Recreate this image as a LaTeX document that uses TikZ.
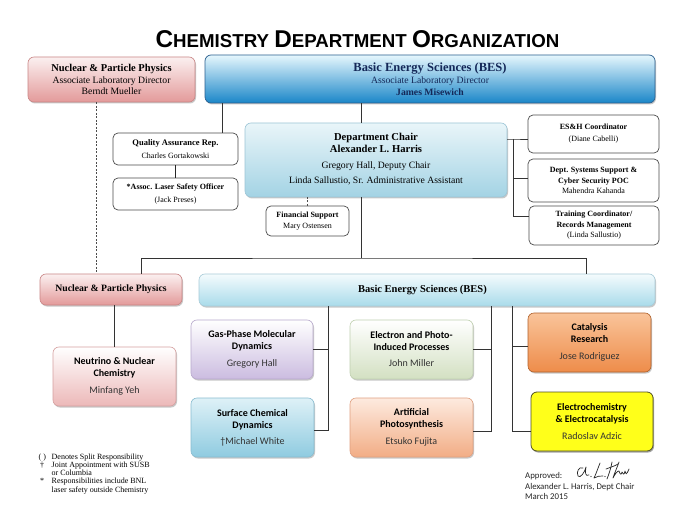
\documentclass[tikz,border=0pt]{standalone}
\usepackage{fontspec}
\setmainfont{Liberation Serif}
\newfontfamily\calfont{Carlito}
\newfontfamily\arialfont{Liberation Sans}
\usetikzlibrary{shadows}
\definecolor{nppT}{HTML}{FBF0F0}\definecolor{nppB}{HTML}{E39A9A}\definecolor{nppD}{HTML}{C98585}
\definecolor{besT}{HTML}{E6F7FD}\definecolor{besM}{HTML}{7CCAF0}\definecolor{besB}{HTML}{1A86C8}\definecolor{besD}{HTML}{2A5F8F}
\definecolor{besTxt}{HTML}{142858}
\definecolor{chairT}{HTML}{E9F5F9}\definecolor{chairB}{HTML}{A3D3E4}\definecolor{chairD}{HTML}{9CC5D6}
\definecolor{barT}{HTML}{F4FBFD}\definecolor{barB}{HTML}{A9DBEA}\definecolor{barD}{HTML}{A8CBD8}
\definecolor{neuB}{HTML}{ECB8B8}\definecolor{neuD}{HTML}{D5A0A0}
\definecolor{gasB}{HTML}{CBBCE0}\definecolor{gasD}{HTML}{B8A9CC}
\definecolor{surfT}{HTML}{DEF1F7}\definecolor{surfB}{HTML}{8FCBE0}\definecolor{surfD}{HTML}{88BCD0}
\definecolor{eleB}{HTML}{D3E0C2}\definecolor{eleD}{HTML}{C0D0B0}
\definecolor{artT}{HTML}{FDEADF}\definecolor{artB}{HTML}{F2AD85}\definecolor{artD}{HTML}{E0A080}
\definecolor{catT}{HTML}{F9C49A}\definecolor{catB}{HTML}{EE8C4A}\definecolor{catD}{HTML}{B0602A}
\definecolor{ecF}{HTML}{FFFF1A}\definecolor{ecD}{HTML}{505020}
\definecolor{nameC}{HTML}{333333}
\begin{document}
\begin{tikzpicture}[x=1pt,y=-1pt,
  conn/.style={draw=black!80, line width=0.9pt},
  thickconn/.style={draw=black!85, line width=1.8pt},
  dashline/.style={draw=black!70, line width=0.7pt, dash pattern=on 2pt off 1.5pt},
  wbox/.style={draw=black!70, line width=0.7pt, rounded corners=5pt, fill=white, align=center, inner sep=0pt,
    font=\fontsize{8}{10}\selectfont},
  gbox/.style n args={3}{rounded corners=6pt, top color=#1, bottom color=#2, draw=#3, line width=0.6pt,
    align=center, inner sep=0pt,
    drop shadow={shadow xshift=1pt, shadow yshift=-1.5pt, opacity=0.3, fill=black!70}},
  sansbox/.style={font=\calfont\fontsize{10}{12}\selectfont, minimum width=123pt, minimum height=59pt},
  sig/.style={draw=black!85, line width=0.7pt, line cap=round, line join=round},
]
\useasboundingbox (0,0) rectangle (700,526);
\fill[white] (0,0) rectangle (700,526);

% title
\node[font=\arialfont\bfseries] (title) at (357.5,39.5)
  {{\fontsize{24.3}{24}\selectfont C}{\fontsize{18.7}{24}\selectfont HEMISTRY }{\fontsize{24.3}{24}\selectfont D}{\fontsize{18.7}{24}\selectfont EPARTMENT }{\fontsize{24.3}{24}\selectfont O}{\fontsize{18.7}{24}\selectfont RGANIZATION}};

% top row
\node[gbox={nppT}{nppB}{nppD}, minimum width=167pt, minimum height=45pt,
  font=\fontsize{9.7}{11.5}\selectfont] (npptop) at (111.5,79.5)
  {{\bfseries\fontsize{10.5}{11.5}\selectfont Nuclear \& Particle Physics}\\ Associate Laboratory Director\\ Berndt Mueller};
\node[rounded corners=6pt, top color=besT, middle color=besM, bottom color=besB, draw=besD, line width=0.7pt,
  align=center, inner sep=0pt, minimum width=450pt, minimum height=48pt, text=besTxt,
  drop shadow={shadow xshift=1pt, shadow yshift=-1.5pt, opacity=0.3, fill=black!70},
  font=\fontsize{9.7}{11.5}\selectfont] (bestop) at (430,79)
  {{\bfseries\fontsize{12.5}{13}\selectfont Basic Energy Sciences (BES)}\\[1pt] Associate Laboratory Director\\ {\bfseries James Misewich}};

% staff boxes left
\node[wbox, minimum width=125pt, minimum height=32pt] (qa) at (175.5,149)
  {{\bfseries\fontsize{8.5}{10}\selectfont Quality Assurance Rep.}\\[2.5pt] Charles Gortakowski};
\node[wbox, minimum width=125pt, minimum height=32pt] (laser) at (175.5,194)
  {{\bfseries *Assoc. Laser Safety Officer}\\[2.5pt] (Jack Preses)};

% department chair
\node[gbox={chairT}{chairB}{chairD}, minimum width=262pt, minimum height=74pt,
  font=\fontsize{9.7}{12}\selectfont] (chair) at (376,160)
  {{\bfseries\fontsize{10.6}{12}\selectfont Department Chair}\\ {\bfseries\fontsize{10.6}{12}\selectfont Alexander L. Harris}\\[4pt] Gregory Hall, Deputy Chair\\[3pt] Linda Sallustio, Sr. Administrative Assistant\\[-9pt]\mbox{}};

\node[wbox, minimum width=83pt, minimum height=30pt, font=\fontsize{8}{11}\selectfont] (fin) at (307.5,221)
  {{\bfseries Financial Support}\\ Mary Ostensen};

% staff boxes right
\node[wbox, minimum width=131pt, minimum height=38pt, font=\fontsize{8}{12}\selectfont] (esh) at (593.5,134)
  {{\bfseries ES\&H Coordinator}\\ (Diane Cabelli)};
\node[wbox, minimum width=131pt, minimum height=43pt, font=\fontsize{8}{10.5}\selectfont] (dss) at (593.5,180.5)
  {{\bfseries Dept. Systems Support \&}\\ {\bfseries Cyber Security POC}\\ Mahendra Kahanda};
\node[wbox, minimum width=130pt, minimum height=39pt, font=\fontsize{8}{10.5}\selectfont] (trn) at (594,225.5)
  {{\bfseries Training Coordinator/}\\ {\bfseries Records Management}\\ (Linda Sallustio)};

% second level
\node[gbox={nppT}{nppB}{nppD}, minimum width=142pt, minimum height=31pt,
  font=\bfseries\fontsize{9.7}{11}\selectfont] (nppmid) at (111,289.5) {Nuclear \& Particle Physics};
\node[gbox={barT}{barB}{barD}, minimum width=456pt, minimum height=32pt,
  font=\bfseries\fontsize{10.5}{12}\selectfont] (besbar) at (427,290) {Basic Energy Sciences (BES)\hspace*{9pt}};

% groups
\node[gbox={white}{neuB}{neuD}, sansbox] (neu) at (114.5,376.5)
  {{\bfseries Neutrino \& Nuclear}\\ {\bfseries Chemistry}\\[5pt] {\color{nameC}Minfang Yeh}};
\node[gbox={white}{gasB}{gasD}, sansbox, minimum width=122pt] (gas) at (252,349.5)
  {{\bfseries Gas-Phase Molecular}\\ {\bfseries Dynamics}\\[5pt] {\color{nameC}Gregory Hall}};
\node[gbox={surfT}{surfB}{surfD}, sansbox] (surf) at (252.5,427.5)
  {{\bfseries Surface Chemical}\\ {\bfseries Dynamics}\\[4pt] {\color{nameC}†Michael White}};
\node[gbox={white}{eleB}{eleD}, sansbox] (ele) at (411.5,349.5)
  {{\bfseries Electron and Photo-}\\ {\bfseries Induced Processes}\\[4pt] {\color{nameC}John Miller}};
\node[gbox={artT}{artB}{artD}, sansbox] (art) at (411.5,427.5)
  {{\bfseries Artificial}\\ {\bfseries Photosynthesis}\\[5pt] {\color{nameC}Etsuko Fujita}};
\node[gbox={catT}{catB}{catD}, sansbox] (cat) at (589.5,342.5)
  {{\bfseries Catalysis}\\ {\bfseries Research}\\[5pt] {\color{nameC}Jose Rodriguez}};
\node[rounded corners=6pt, fill=ecF, draw=ecD, line width=0.8pt, align=center, inner sep=0pt,
  drop shadow={shadow xshift=1pt, shadow yshift=-1.5pt, opacity=0.45, fill=black!80},
  sansbox, minimum width=122pt] (ec) at (592,421.5)
  {{\bfseries Electrochemistry}\\ {\bfseries \& Electrocatalysis}\\[5pt] {\color{nameC}Radoslav Adzic}};

% connectors top
\draw[conn] ([xshift=46.5pt]qa.north) -- ([xshift=46.5pt]qa.north |- bestop.south);
\draw[thickconn] (qa.south) -- (laser.north);
\draw[conn] ([xshift=-15pt]chair.north) -- ([xshift=-15pt]chair.north |- bestop.south);
\draw[dashline] ([xshift=-15.5pt]npptop.south) -- ([xshift=-15.5pt]npptop.south |- nppmid.north);
\draw[dashline] (fin.north) -- (fin.north |- chair.south);

\coordinate (hub) at (361,258);
\draw[conn] ([xshift=-15pt]chair.south) -- (hub);
\draw[conn] ([xshift=30pt]nppmid.north) |- (hub) -| ([xshift=159pt]besbar.north);

\coordinate (rt) at (513,139);
\draw[conn] ([yshift=21pt]chair.east) -- (rt) -- (rt -| esh.west);
\draw[conn] (rt) |- ([yshift=9.5pt]trn.west);
\coordinate (rb) at (513,178);
\draw[conn] (rb) -- (rb -| dss.west);

% connectors lower
\draw[conn] (nppmid.south -| neu.north) -- (neu.north);
\coordinate (t1) at (328,306);
\coordinate (t2) at (491,306);
\coordinate (t3) at (512,306);
\coordinate (b3) at (512,346);
\draw[conn] (t1) |- ([yshift=-2.5pt]surf.east);
\draw[conn] (gas.east) -- (gas.east -| t1);
\draw[conn] (t2) |- ([yshift=-3.5pt]art.east);
\draw[conn] (ele.east) -- (ele.east -| t2);
\draw[conn] (t3) |- ([yshift=-9.5pt]ec.west);
\draw[conn] (b3) -- (b3 -| cat.west);

% legend
\node[anchor=north west, align=left, inner sep=0pt, font=\fontsize{8}{8}\selectfont] (legend) at (38.5,453.5)
  {\makebox[13pt][l]{( )}Denotes Split Responsibility\\[0.5pt]
   \makebox[13pt][l]{\hspace{1.5pt}†}Joint Appointment with SUSB\\
   \makebox[13pt][l]{}or Columbia\\
   \makebox[13pt][l]{\hspace{1.5pt}*}Responsibilities include BNL\\[0.5pt]
   \makebox[13pt][l]{}laser safety outside Chemistry};

% approval
\node[anchor=north west, align=left, inner sep=0pt, font=\calfont\fontsize{8.8}{10.8}\selectfont, text=black!85] (appr) at (525,472)
  {Approved:\\ Alexander L. Harris, Dept Chair\\ March 2015};

% signature
\draw[sig] (583,468) .. controls (579,466) and (576,472) .. (578,476)
  .. controls (580,479) and (585,472) .. (586,467)
  .. controls (585,472) and (585,477) .. (589,475);
\fill[black!85] (591,476.5) circle (0.7);
\draw[sig] (600,463) .. controls (598,468) and (596,474) .. (594,478)
  .. controls (597,476) and (600,476) .. (603,476);
\fill[black!85] (605,476.5) circle (0.7);
\draw[sig] (612,462) .. controls (611,468) and (609,474) .. (607,479);
\draw[sig] (606,469) .. controls (611,467) and (615,466) .. (618,464);
\draw[sig] (619,462) .. controls (617,468) and (614,474) .. (613,478)
  .. controls (615,474) and (617,471) .. (619,471)
  .. controls (620,474) and (621,476) .. (622,472)
  .. controls (623,474) and (624,476) .. (625,471)
  .. controls (626,474) and (626,476) .. (629,469);
\end{tikzpicture}
\end{document}
